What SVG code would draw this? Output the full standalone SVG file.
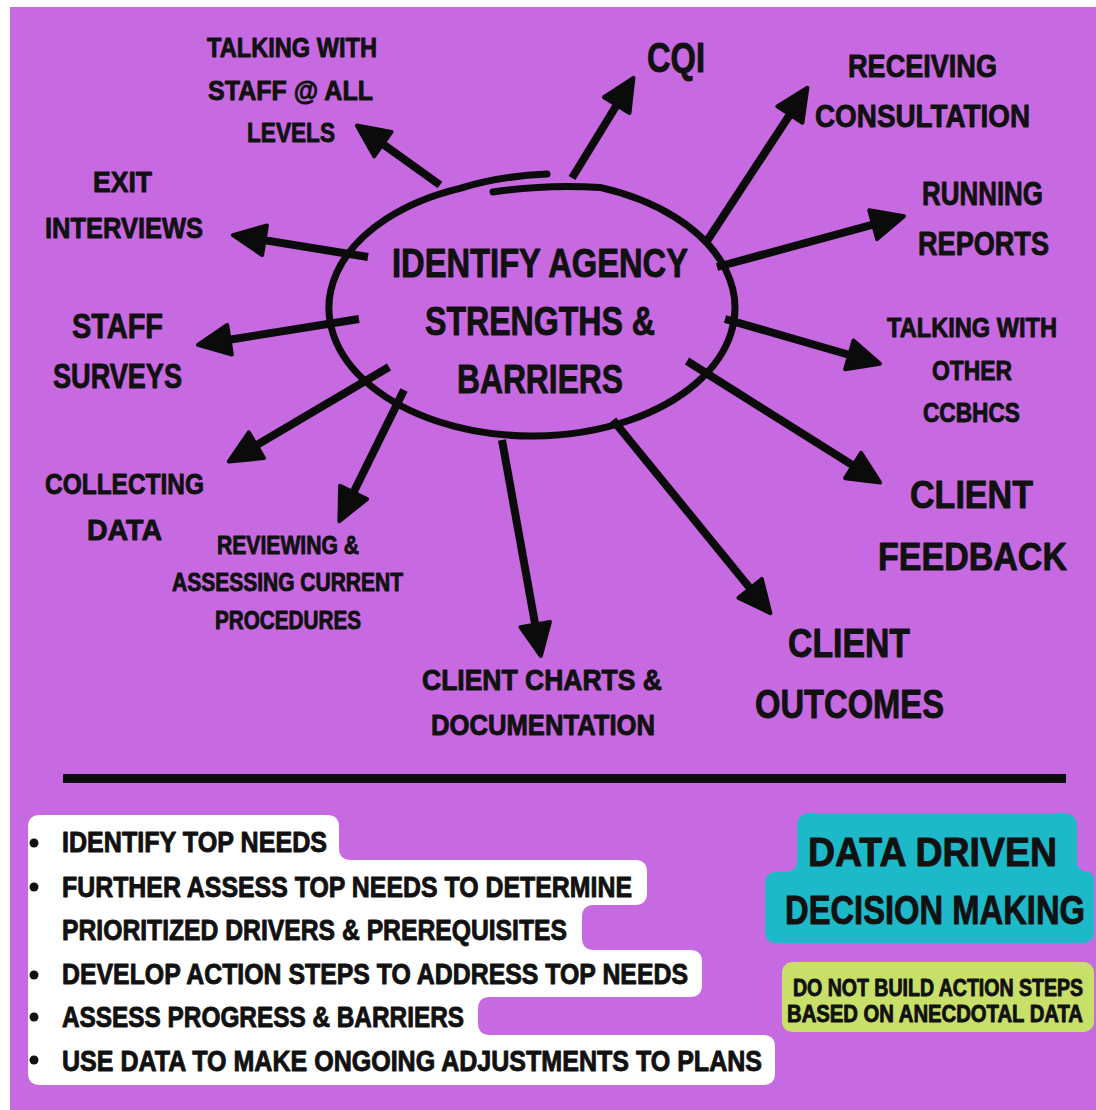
<svg xmlns="http://www.w3.org/2000/svg" width="1096" height="1110" viewBox="0 0 1096 1110">
  <style>
    .t { font-family: "Liberation Sans", "DejaVu Sans", sans-serif; font-weight: bold; fill: #111; stroke: #111; stroke-width: 0.9; stroke-linejoin: round; }
    .conn { stroke: #0b0b0b; stroke-width: 8; fill: none; marker-end: url(#head); }
    .ring { stroke: #0b0b0b; stroke-width: 7; fill: none; stroke-linecap: round; }
  </style>
  <defs>
    <marker id="head" markerUnits="userSpaceOnUse" viewBox="0 0 38 36" refX="16" refY="18" markerWidth="38" markerHeight="36" orient="auto">
      <path d="M3,3 L35,18 L3,33 Z" fill="#0b0b0b" stroke="#0b0b0b" stroke-width="4" stroke-linejoin="round"/>
    </marker>
  </defs>

  <!-- page -->
  <rect x="0" y="0" width="1096" height="1110" fill="#ffffff"/>
  <rect x="10" y="7" width="1086" height="1103" fill="#C76AE1"/>

  <!-- connectors from the centre ring -->
  <g id="connectors">
    <line class="conn" x1="440" y1="185" x2="372.3" y2="136.6"/>
    <line class="conn" x1="368" y1="257" x2="251.7" y2="238.2"/>
    <line class="conn" x1="359" y1="319" x2="216.7" y2="341.8"/>
    <line class="conn" x1="389" y1="367" x2="245.2" y2="451.8"/>
    <line class="conn" x1="404" y1="390" x2="347.8" y2="504.1"/>
    <line class="conn" x1="502" y1="440" x2="537.5" y2="637.3"/>
    <line class="conn" x1="613" y1="420" x2="758.4" y2="598.5"/>
    <line class="conn" x1="687" y1="361" x2="864.1" y2="472.4"/>
    <line class="conn" x1="725" y1="319" x2="861.8" y2="358.5"/>
    <line class="conn" x1="717" y1="267" x2="885.7" y2="221.2"/>
    <line class="conn" x1="707" y1="241" x2="797" y2="103.7"/>
    <line class="conn" x1="572" y1="178" x2="623.5" y2="94"/>
  </g>

  <!-- centre node -->
  <g id="node-center">
    <path class="ring" d="M493,192 Q545,184 600,187.4 A203,128 0 1 1 460,188.3 Q500,176 547,174"/>
    <text class="t" font-size="40" x="392" y="277" textLength="296" lengthAdjust="spacingAndGlyphs">IDENTIFY AGENCY</text>
    <text class="t" font-size="40" x="425" y="335" textLength="230" lengthAdjust="spacingAndGlyphs">STRENGTHS &amp;</text>
    <text class="t" font-size="40" x="457" y="393" textLength="166" lengthAdjust="spacingAndGlyphs">BARRIERS</text>
  </g>

  <g id="node-talking-staff">
    <text class="t" font-size="28" x="207" y="57" textLength="170" lengthAdjust="spacingAndGlyphs">TALKING WITH</text>
    <text class="t" font-size="28" x="208" y="100" textLength="165" lengthAdjust="spacingAndGlyphs">STAFF @ ALL</text>
    <text class="t" font-size="28" x="247" y="142" textLength="88" lengthAdjust="spacingAndGlyphs">LEVELS</text>
  </g>
  <g id="node-exit">
    <text class="t" font-size="30" x="93" y="192" textLength="59" lengthAdjust="spacingAndGlyphs">EXIT</text>
    <text class="t" font-size="30" x="45" y="238" textLength="158" lengthAdjust="spacingAndGlyphs">INTERVIEWS</text>
  </g>
  <g id="node-staff-surveys">
    <text class="t" font-size="35" x="72" y="338" textLength="91" lengthAdjust="spacingAndGlyphs">STAFF</text>
    <text class="t" font-size="35" x="53" y="388" textLength="129" lengthAdjust="spacingAndGlyphs">SURVEYS</text>
  </g>
  <g id="node-collecting">
    <text class="t" font-size="30" x="45" y="494" textLength="159" lengthAdjust="spacingAndGlyphs">COLLECTING</text>
    <text class="t" font-size="30" x="87" y="540" textLength="75" lengthAdjust="spacingAndGlyphs">DATA</text>
  </g>
  <g id="node-reviewing">
    <text class="t" font-size="25" x="217" y="554" textLength="142" lengthAdjust="spacingAndGlyphs">REVIEWING &amp;</text>
    <text class="t" font-size="25" x="172" y="591" textLength="231" lengthAdjust="spacingAndGlyphs">ASSESSING CURRENT</text>
    <text class="t" font-size="25" x="215" y="629" textLength="146" lengthAdjust="spacingAndGlyphs">PROCEDURES</text>
  </g>
  <g id="node-charts">
    <text class="t" font-size="29" x="422" y="690" textLength="240" lengthAdjust="spacingAndGlyphs">CLIENT CHARTS &amp;</text>
    <text class="t" font-size="29" x="431" y="735" textLength="224" lengthAdjust="spacingAndGlyphs">DOCUMENTATION</text>
  </g>
  <g id="node-outcomes">
    <text class="t" font-size="40" x="788" y="657" textLength="122" lengthAdjust="spacingAndGlyphs">CLIENT</text>
    <text class="t" font-size="40" x="755" y="718" textLength="189" lengthAdjust="spacingAndGlyphs">OUTCOMES</text>
  </g>
  <g id="node-feedback">
    <text class="t" font-size="39" x="910" y="508" textLength="123" lengthAdjust="spacingAndGlyphs">CLIENT</text>
    <text class="t" font-size="39" x="878" y="570" textLength="189" lengthAdjust="spacingAndGlyphs">FEEDBACK</text>
  </g>
  <g id="node-talking-other">
    <text class="t" font-size="27" x="887" y="337" textLength="170" lengthAdjust="spacingAndGlyphs">TALKING WITH</text>
    <text class="t" font-size="27" x="932" y="380" textLength="80" lengthAdjust="spacingAndGlyphs">OTHER</text>
    <text class="t" font-size="27" x="923" y="422" textLength="97" lengthAdjust="spacingAndGlyphs">CCBHCS</text>
  </g>
  <g id="node-reports">
    <text class="t" font-size="33" x="922" y="205" textLength="121" lengthAdjust="spacingAndGlyphs">RUNNING</text>
    <text class="t" font-size="33" x="918" y="255" textLength="131" lengthAdjust="spacingAndGlyphs">REPORTS</text>
  </g>
  <g id="node-consultation">
    <text class="t" font-size="32" x="848" y="77" textLength="149" lengthAdjust="spacingAndGlyphs">RECEIVING</text>
    <text class="t" font-size="32" x="815" y="127" textLength="215" lengthAdjust="spacingAndGlyphs">CONSULTATION</text>
  </g>
  <g id="node-cqi">
    <text class="t" font-size="42" x="647" y="72" textLength="58" lengthAdjust="spacingAndGlyphs">CQI</text>
  </g>

  <!-- divider -->
  <rect x="63" y="774" width="1003" height="9" fill="#0b0b0b"/>

  <!-- steps list -->
  <g id="steps">
    <path fill="#ffffff" d="M28,827 Q28,815 40,815 H327 Q339,815 339,827 V848 Q339,860 351,860 H635 Q647,860 647,872 V893 Q647,905 635,905 H594 Q582,905 582,917 V938 Q582,950 594,950 H690 Q702,950 702,962 V985 Q702,997 690,997 H490 Q478,997 478,1009 V1023 Q478,1035 490,1035 H763 Q775,1035 775,1047 V1073 Q775,1085 763,1085 H40 Q28,1085 28,1073 Z"/>
    <g fill="#111">
      <circle cx="34" cy="843" r="4.5"/>
      <circle cx="34" cy="887" r="4.5"/>
      <circle cx="34" cy="975" r="4.5"/>
      <circle cx="34" cy="1017" r="4.5"/>
      <circle cx="34" cy="1060" r="4.5"/>
    </g>
    <text class="t" font-size="29" x="62" y="852" textLength="265" lengthAdjust="spacingAndGlyphs">IDENTIFY TOP NEEDS</text>
    <text class="t" font-size="29" x="62" y="897" textLength="570" lengthAdjust="spacingAndGlyphs">FURTHER ASSESS TOP NEEDS TO DETERMINE</text>
    <text class="t" font-size="29" x="62" y="940" textLength="505" lengthAdjust="spacingAndGlyphs">PRIORITIZED DRIVERS &amp; PREREQUISITES</text>
    <text class="t" font-size="29" x="62" y="984" textLength="626" lengthAdjust="spacingAndGlyphs">DEVELOP ACTION STEPS TO ADDRESS TOP NEEDS</text>
    <text class="t" font-size="29" x="62" y="1027" textLength="402" lengthAdjust="spacingAndGlyphs">ASSESS PROGRESS &amp; BARRIERS</text>
    <text class="t" font-size="29" x="62" y="1071" textLength="700" lengthAdjust="spacingAndGlyphs">USE DATA TO MAKE ONGOING ADJUSTMENTS TO PLANS</text>
  </g>

  <!-- decision making badge; wide lines are narrowed with a horizontal scale -->
  <g id="badge-ddm">
    <path fill="#1DB9C9" d="M797,827 Q797,813 811,813 H1063 Q1077,813 1077,827 V860 Q1077,872 1089,872 Q1094,872 1094,884 V931 Q1094,943 1082,943 H777 Q765,943 765,931 V884 Q765,872 777,872 H785 Q797,872 797,860 Z"/>
    <text class="t" font-size="40" x="808" y="866" textLength="249" lengthAdjust="spacingAndGlyphs">DATA DRIVEN</text>
    <text class="t" font-size="40" transform="translate(785,924) scale(0.8,1)" x="0" y="0" textLength="375" lengthAdjust="spacingAndGlyphs">DECISION MAKING</text>
  </g>

  <g id="note-anecdotal">
    <rect x="782" y="962" width="312" height="70" rx="10" fill="#C8DF6A"/>
    <text class="t" font-size="24" transform="translate(793,996) scale(0.8,1)" x="0" y="0" textLength="362.5" lengthAdjust="spacingAndGlyphs">DO NOT BUILD ACTION STEPS</text>
    <text class="t" font-size="24" transform="translate(787,1022) scale(0.8,1)" x="0" y="0" textLength="370" lengthAdjust="spacingAndGlyphs">BASED ON ANECDOTAL DATA</text>
  </g>
</svg>
